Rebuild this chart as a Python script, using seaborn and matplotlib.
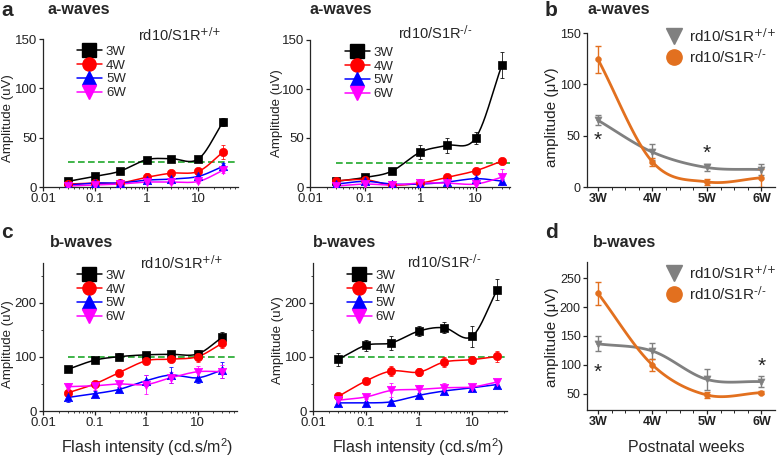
import numpy as np
import matplotlib
matplotlib.use("Agg")
import matplotlib.pyplot as plt
from matplotlib.lines import Line2D
from matplotlib.ticker import FixedLocator, NullFormatter
import seaborn as sns

W, H = 778, 458

# flash intensities (cd.s/m2) and ages
flash = [0.03, 0.1, 0.3, 1, 3, 10, 30]
ages = ["3W", "4W", "5W", "6W"]

# a-waves, rd10/S1R+/+  (rows: 3W, 4W, 5W, 6W)
a_wt_mean = [[5.7, 10.8, 15.9, 27.7, 28.7, 28.5, 66],
             [3, 4, 4, 9.8, 14, 15.9, 35.5],
             [2, 4, 4, 7, 8, 10.8, 21],
             [1, 2, 3, 5, 5, 5.7, 17]]
a_wt_err = [[1.5, 1.5, 1.5, 2, 2, 2, 4],
            [1, 1, 1, 4, 2, 2, 7],
            [1, 1, 1, 2, 2, 2, 3],
            [1, 1, 1, 2, 2, 2, 3]]

# a-waves, rd10/S1R-/-
a_ko_mean = [[5.8, 9.8, 16, 35.6, 42.4, 50, 124.5],
             [6.4, 7.5, 2, 4, 9.8, 16.6, 26.5],
             [3, 5.8, 3, 3, 5, 8.5, 6],
             [1, 3, 2, 4, 4, 3, 10]]
a_ko_err = [[1.5, 2, 2, 7, 8, 6, 13],
            [1, 1, 1, 1, 2, 2, 2],
            [1, 1, 1, 1, 1, 2, 2],
            [1, 1, 1, 1, 1, 1, 8]]

# b-waves, rd10/S1R+/+
b_wt_mean = [[77, 94, 100.6, 104, 105, 105.6, 136.6],
             [33.5, 50, 71, 93, 96, 100.6, 125.5],
             [25, 32, 40, 56, 66.5, 61.5, 76],
             [45, 46.6, 50, 49, 61.5, 72.7, 72.7]]
b_wt_err = [[5, 4, 6, 6, 6, 8, 10],
            [5, 5, 5, 5, 5, 10, 8],
            [8, 5, 5, 10, 15, 10, 15],
            [6, 8, 6, 18, 10, 10, 12]]

# b-waves, rd10/S1R-/-
b_ko_mean = [[95.7, 121.6, 126, 148, 154, 138, 224.7],
             [27, 55.6, 74, 72, 90.7, 95, 101],
             [15, 15, 17, 29, 37, 43, 49],
             [20, 26, 38, 40, 43, 44.4, 53.7]]
b_ko_err = [[12, 10, 13, 10, 10, 20, 20],
            [4, 4, 10, 8, 10, 5, 10],
            [3, 3, 3, 5, 4, 5, 5],
            [3, 4, 13, 8, 8, 4, 5]]

# brightest flash amplitude vs age
awave_wt = [65, 34, 19, 17]
awave_wt_err = [5, 8, 3, 5]
awave_ko = [124.5, 24.5, 5, 9]
awave_ko_err = [13, 4, 3, 9]
bwave_wt = [136.5, 124, 75, 71]
bwave_wt_err = [13, 14, 18, 10]
bwave_ko = [224, 100, 48, 52]
bwave_ko_err = [20, 10, 6, 3]

# significance marks (age index, height)
a_star_x = [0, 2]
a_star_y = [45, 33]
b_star_x = [0, 3]
b_star_y = [88, 97]

a_thresh = 25
b_thresh = 100

wt_label = r"rd10/S1R$^{\text{+/+}}$"
ko_label = r"rd10/S1R$^{\text{-/-}}$"

age_colors = ["#000000", "#ff0000", "#0000ff", "#ff00ff"]
age_markers = ["s", "o", "^", "v"]
wt_color = "#808080"
ko_color = "#e2701f"
thresh_color = "#1fa82a"

sns.set_theme(style="ticks")
plt.rcParams["font.family"] = ["Liberation Sans", "DejaVu Sans"]
plt.rcParams["mathtext.default"] = "regular"
plt.rcParams["axes.linewidth"] = 0.9
plt.rcParams["xtick.major.width"] = 0.9
plt.rcParams["ytick.major.width"] = 0.9


def smooth(x, y, n=25):
    # Catmull-Rom curve through the points, for drawing only
    x = np.asarray(x, float)
    y = np.asarray(y, float)
    px = np.concatenate([[2 * x[0] - x[1]], x, [2 * x[-1] - x[-2]]])
    py = np.concatenate([[2 * y[0] - y[1]], y, [2 * y[-1] - y[-2]]])
    xs, ys = [], []
    t = np.linspace(0, 1, n, endpoint=False)
    for i in range(1, len(px) - 2):
        for p, out in ((px, xs), (py, ys)):
            p0, p1, p2, p3 = p[i - 1], p[i], p[i + 1], p[i + 2]
            out.append(0.5 * (2 * p1 + (-p0 + p2) * t
                              + (2 * p0 - 5 * p1 + 4 * p2 - p3) * t ** 2
                              + (-p0 + 3 * p1 - 3 * p2 + p3) * t ** 3))
    xs.append([x[-1]])
    ys.append([y[-1]])
    return np.concatenate(xs), np.concatenate(ys)


def add_axes(fig, left, right, top, bottom):
    return fig.add_axes([left / W, 1 - bottom / H, (right - left) / W, (bottom - top) / H])


def ftext(fig, x, y, s, **kw):
    fig.text(x / W, 1 - y / H, s, **kw)


def intensity_panel(ax, means, errs, xmax, ylim, yticks, yminor, thresh):
    for i, age in enumerate(ages):
        c = age_colors[i]
        sx, sy = smooth(np.log10(flash), means[i])
        sns.lineplot(x=10 ** sx, y=sy, ax=ax, color=c, lw=1.1, sort=False,
                     estimator=None, legend=False, zorder=2)
        ax.errorbar(flash, means[i], yerr=errs[i], fmt="none", ecolor=c,
                    elinewidth=0.7, capsize=1.5, capthick=0.7, alpha=0.8, zorder=2)
        sns.scatterplot(x=flash, y=means[i], ax=ax, marker=age_markers[i], color=c,
                        edgecolor=c, s=36, linewidth=0.5, legend=False, zorder=3)
    ax.hlines(thresh, flash[0], xmax, colors=thresh_color, linestyles=(0, (4, 2)),
              lw=1.2, zorder=1)
    ax.set_xscale("log")
    ax.set_xlim(0.01, xmax)
    ax.set_ylim(*ylim)
    ax.xaxis.set_major_locator(FixedLocator([0.01, 0.1, 1, 10]))
    ax.set_xticklabels(["0.01", "0.1", "1", "10"])
    ax.xaxis.set_minor_formatter(NullFormatter())
    ax.set_yticks(yticks)
    if yminor:
        ax.yaxis.set_minor_locator(FixedLocator(yminor))
    ax.tick_params(axis="both", which="major", labelsize=9.5, length=3, pad=1.5, colors="#222222")
    ax.tick_params(axis="both", which="minor", length=1.6, width=0.6)
    ax.set_xlabel("")
    ax.set_ylabel("")
    handles = [Line2D([], [], color=age_colors[i], marker=age_markers[i], markersize=9.5,
                      lw=1.1) for i in range(4)]
    ax.legend(handles, ages, loc="upper left", bbox_to_anchor=(0.14, 1.0), frameon=False,
              fontsize=9.5, handlelength=1.9, handletextpad=0.3, labelspacing=0.12,
              borderaxespad=0.1)
    sns.despine(ax=ax)


def age_panel(ax, wt, wt_err, ko, ko_err, ylim, yticks, star_x, star_y, legend_y):
    pos = np.arange(len(ages))
    for vals, err, c, m, s in ((wt, wt_err, wt_color, "v", 26), (ko, ko_err, ko_color, "o", 18)):
        sx, sy = smooth(pos, vals)
        sns.lineplot(x=sx, y=sy, ax=ax, color=c, lw=2.0, sort=False, estimator=None,
                     legend=False, zorder=2)
        ax.errorbar(pos, vals, yerr=err, fmt="none", ecolor=c, elinewidth=1.0,
                    capsize=2, capthick=1.0, zorder=2)
        sns.scatterplot(x=pos, y=vals, ax=ax, marker=m, color=c, edgecolor=c, s=s,
                        legend=False, zorder=3)
    for x, y in zip(star_x, star_y):
        ax.text(x, y, "*", ha="center", va="center", fontsize=15, color="#222222")
    ax.set_xlim(-0.2, 3.25)
    ax.set_ylim(*ylim)
    ax.set_xticks(pos)
    ax.set_xticklabels(ages, fontweight="bold")
    ax.xaxis.set_minor_locator(FixedLocator([0.25, 0.5, 0.75, 1.25, 1.5, 1.75, 2.25, 2.5, 2.75]))
    ax.set_yticks(yticks)
    ax.tick_params(axis="both", which="major", labelsize=9, length=3, pad=1.5, colors="#222222")
    ax.tick_params(axis="x", which="minor", length=2, width=0.7)
    ax.set_xlabel("")
    ax.set_ylabel("")
    handles = [Line2D([], [], color=wt_color, marker="v", markersize=11, lw=0),
               Line2D([], [], color=ko_color, marker="o", markersize=11, lw=0)]
    ax.legend(handles, [wt_label, ko_label], loc="upper left",
              bbox_to_anchor=(0.38, legend_y), frameon=False, fontsize=11,
              handlelength=1.0, handletextpad=0.5, labelspacing=0.2, borderaxespad=0.1)
    sns.despine(ax=ax)


fig = plt.figure(figsize=(W / 100, H / 100), dpi=100)

ax_a1 = add_axes(fig, 43, 238, 39, 187)
ax_a2 = add_axes(fig, 310, 510, 40, 187)
ax_c1 = add_axes(fig, 43, 237, 263, 411)
ax_c2 = add_axes(fig, 313, 507, 263, 411)
ax_b = add_axes(fig, 587, 775, 33, 187)
ax_d = add_axes(fig, 587, 775, 262, 410)

intensity_panel(ax_a1, a_wt_mean, a_wt_err, 58, (0, 150), [0, 50, 100, 150], None, a_thresh)
intensity_panel(ax_a2, a_ko_mean, a_ko_err, 42, (0, 150), [0, 50, 100, 150], None, a_thresh)
intensity_panel(ax_c1, b_wt_mean, b_wt_err, 58, (0, 274), [0, 100, 200], [50, 150, 250], b_thresh)
intensity_panel(ax_c2, b_ko_mean, b_ko_err, 46, (0, 274), [0, 100, 200], [50, 150, 250], b_thresh)
age_panel(ax_b, awave_wt, awave_wt_err, awave_ko, awave_ko_err, (0, 150), [0, 50, 100, 150],
          a_star_x, a_star_y, 1.09)
age_panel(ax_d, bwave_wt, bwave_wt_err, bwave_ko, bwave_ko_err, (22, 278), [50, 100, 150, 200, 250],
          b_star_x, b_star_y, 1.04)

# panel letters and titles
for x, y, s in ((7, 10, "a"), (551, 10, "b"), (7, 233, "c"), (551, 233, "d")):
    ftext(fig, x, y, s, fontsize=15, fontweight="bold", ha="center", va="center")
for x, y in ((47, 10), (309, 10), (588, 10), (50, 243), (313, 243), (593, 243)):
    title = "a-waves" if y < 100 else "b-waves"
    ftext(fig, x, y, title, fontsize=11.5, fontweight="bold", ha="left", va="center")

# genotype labels
for x, y, s in ((138, 35, wt_label), (398, 33, ko_label),
                (140, 263, wt_label), (407, 262, ko_label)):
    ftext(fig, x, y, s, fontsize=10.5, ha="left", va="center")

# axis labels
for x, y in ((8, 118), (277, 113), (8, 344), (278, 340)):
    ftext(fig, x, y, "Amplitude (uV)", fontsize=9.5, rotation=90, ha="center", va="center",
          color="#222222")
for y in (117, 337):
    ftext(fig, 552, y, "amplitude (μV)", fontsize=11, rotation=90, ha="center", va="center",
          color="#222222")
for x in (147, 418):
    ftext(fig, x, 447, "Flash intensity (cd.s/m$^2$)", fontsize=11.5, ha="center", va="center")
ftext(fig, 686, 447, "Postnatal weeks", fontsize=11.5, ha="center", va="center")

fig.savefig("out.png", dpi=100)
